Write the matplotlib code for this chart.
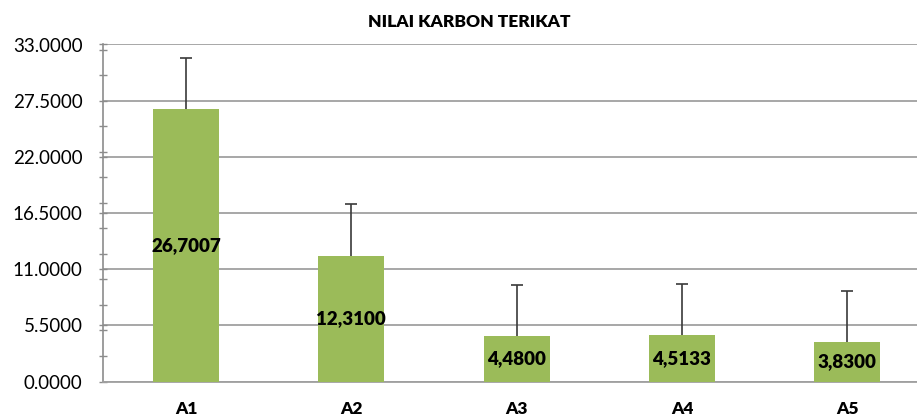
import matplotlib.pyplot as plt
from matplotlib.ticker import MultipleLocator, FormatStrFormatter
import numpy as np

plt.rcParams['font.family'] = ['Lato', 'DejaVu Sans']

# data
categories = ['A1', 'A2', 'A3', 'A4', 'A5']
values = [26.7007, 12.3100, 4.4800, 4.5133, 3.8300]
errors = [5.00, 5.04, 5.00, 5.00, 5.03]
labels = ['26,7007', '12,3100', '4,4800', '4,5133', '3,8300']

W, H = 917, 419
fig = plt.figure(figsize=(W / 100, H / 100), dpi=100)
# axes box in pixels: left 103.4, right edge at figure edge (chart cropped), y 0 at 381.5, 33 at 44.5
ax = fig.add_axes([103.4 / W, (H - 381.5) / H, (W - 103.4) / W, (381.5 - 44.5) / H])

x = np.arange(len(categories))
ax.bar(x, values, width=0.4, color='#9BBB59', zorder=3)
eb = ax.errorbar(x, values, yerr=[np.zeros(len(errors)), errors], fmt='none',
                 ecolor='#3a3a3a', elinewidth=1.2, capsize=4.5, capthick=1.2, zorder=4)
# only the upper cap is drawn (plus-only error bars)
eb[1][0].set_visible(False)

# value labels in the middle of each bar
for xi, v, t in zip(x, values, labels):
    ax.text(xi, v / 2, t, ha='center', va='center', fontsize=13.5,
            fontweight='heavy', color='black', zorder=5)

ax.set_xlim(-0.5, -0.5 + (W - 103.4) / 165.3)
ax.set_ylim(0, 33)
ax.yaxis.set_major_locator(MultipleLocator(5.5))
ax.yaxis.set_minor_locator(MultipleLocator(2.5))
ax.yaxis.set_major_formatter(FormatStrFormatter('%.4f'))
ax.grid(axis='y', which='major', color='#a0a0a0', linewidth=1.3, zorder=1)
ax.set_axisbelow(True)

ax.set_xticks(x)
ax.set_xticklabels(categories, fontsize=12.5, fontweight='heavy')
ax.tick_params(axis='x', length=0, pad=14)
ax.tick_params(axis='y', which='major', direction='inout', length=6, width=1,
               color='#8c8c8c', labelsize=13.5, pad=12)
ax.tick_params(axis='y', which='minor', direction='inout', length=6, width=1,
               color='#8c8c8c')

for s in ['top', 'right']:
    ax.spines[s].set_visible(False)
ax.spines['left'].set_color('#8c8c8c')
ax.spines['bottom'].set_color('#a0a0a0')
ax.spines['left'].set_linewidth(1.2)
ax.spines['bottom'].set_linewidth(1.3)

fig.text(469 / W, 1 - 22 / H, 'NILAI KARBON TERIKAT', ha='center', va='center',
         fontsize=12.5, fontweight='heavy')

fig.savefig('out.png', dpi=100)
